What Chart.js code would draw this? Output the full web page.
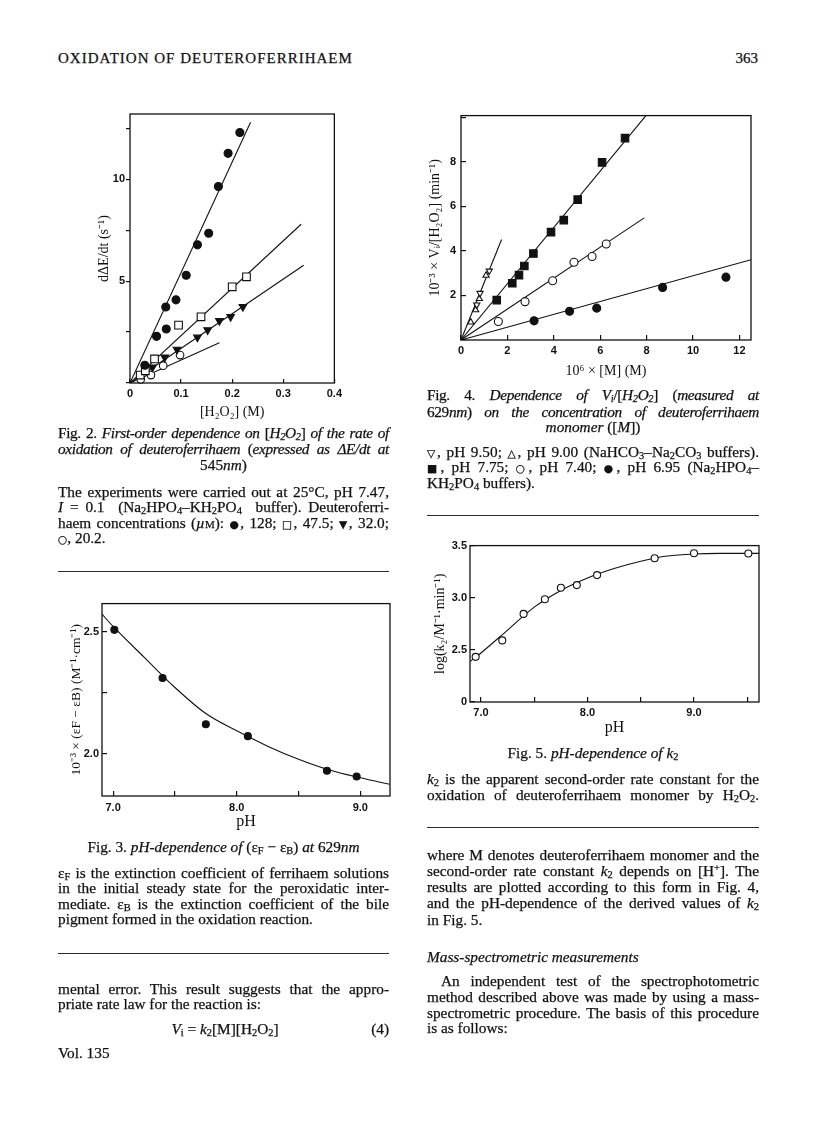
<!DOCTYPE html>
<html>
<head>
<meta charset="utf-8">
<title>Oxidation of deuteroferrihaem</title>
<script src="https://cdn.jsdelivr.net/npm/chart.js@4.4.1/dist/chart.umd.min.js"></script>
<style>
  html, body { margin: 0; padding: 0; background: #fff; }
  body { width: 816px; height: 1136px; position: relative; overflow: hidden;
         font-family: 'Liberation Serif', 'Times New Roman', serif; color: #111; }
  .ln { position: absolute; font-size: 15.3px; line-height: 16px; height: 16px;
        -webkit-text-stroke: 0.25px #111; }
  .j { text-align: justify; text-align-last: justify; }
  .c { text-align: center; }
  .L { left: 58px; width: 331px; }
  .R { left: 427px; width: 332px; }
  .tight { letter-spacing: -0.35px; }
  sub { font-size: 0.68em; vertical-align: -0.22em; line-height: 0; }
  sup { font-size: 0.68em; vertical-align: 0.45em; line-height: 0; }
  .sym { font-family: 'DejaVu Sans', sans-serif; font-size: 0.7em; }
  .sc { font-variant: small-caps; }
  .rule { position: absolute; height: 0; border-top: 1.4px solid #2a2a2a; }
  canvas { position: absolute; }
</style>
</head>
<body>

<!-- running head -->
<div class="ln" style="left:58px; top:50px; letter-spacing:1px; font-size:15px;">OXIDATION OF DEUTEROFERRIHAEM</div>
<div class="ln" style="left:700px; width:58px; top:50px; text-align:right; font-size:15px;">363</div>

<!-- left column -->
<canvas id="fig2" width="270" height="328" style="left:80px; top:100px;"></canvas>

<div class="ln L j tight" style="top:425px;">Fig. 2. <i>First-order dependence on</i> [<i>H<sub>2</sub>O<sub>2</sub></i>] <i>of the rate of</i></div>
<div class="ln L j tight" style="top:441px;"><i>oxidation of deuteroferrihaem</i> (<i>expressed as ΔE/dt at</i></div>
<div class="ln L c" style="top:457px;">545<i>nm</i>)</div>

<div class="ln L j" style="top:484px;">The experiments were carried out at 25°C, pH 7.47,</div>
<div class="ln L j" style="top:499px;"><i>I</i> = 0.1 &nbsp;(Na<sub>2</sub>HPO<sub>4</sub>–KH<sub>2</sub>PO<sub>4</sub> &nbsp;buffer). Deuteroferri-</div>
<div class="ln L j" style="top:515px;">haem concentrations (<i>µ</i><span class="sc">m</span>): <span class="sym">●</span>, 128; <span class="sym">□</span>, 47.5; <span class="sym">▼</span>, 32.0;</div>
<div class="ln L" style="top:530px;"><span class="sym">○</span>, 20.2.</div>

<div class="rule" style="left:58px; width:331px; top:571px;"></div>

<canvas id="fig3" width="342" height="245" style="left:58px; top:589px;"></canvas>

<div class="ln L c" style="top:839px;">Fig. 3. <i>pH-dependence of</i> (ε<sub>F</sub> − ε<sub>B</sub>) <i>at</i> 629<i>nm</i></div>

<div class="ln L j" style="top:865px;">ε<sub>F</sub> is the extinction coefficient of ferrihaem solutions</div>
<div class="ln L j" style="top:880px;">in the initial steady state for the peroxidatic inter-</div>
<div class="ln L j" style="top:896px;">mediate. ε<sub>B</sub> is the extinction coefficient of the bile</div>
<div class="ln L" style="top:911px;">pigment formed in the oxidation reaction.</div>

<div class="rule" style="left:58px; width:331px; top:953px;"></div>

<div class="ln L j" style="top:981px;">mental error. This result suggests that the appro-</div>
<div class="ln L" style="top:996px;">priate rate law for the reaction is:</div>
<div class="ln" style="left:150px; width:150px; top:1021px; text-align:center;"><i>V</i><sub>i</sub> = <i>k</i><sub>2</sub>[M][H<sub>2</sub>O<sub>2</sub>]</div>
<div class="ln" style="left:340px; width:49px; top:1021px; text-align:right;">(4)</div>
<div class="ln L" style="top:1045px;">Vol. 135</div>

<!-- right column -->
<canvas id="fig4" width="341" height="290" style="left:420px; top:99px;"></canvas>

<div class="ln R j tight" style="top:387px;">Fig. 4. <i>Dependence of V<sub>i</sub></i>/[<i>H<sub>2</sub>O<sub>2</sub></i>] (<i>measured at</i></div>
<div class="ln R j tight" style="top:404px;">629<i>nm</i>) <i>on the concentration of deuteroferrihaem</i></div>
<div class="ln R c" style="top:419px;"><i>monomer</i> ([<i>M</i>])</div>

<div class="ln R j" style="top:444px;"><span class="sym">▽</span>, pH 9.50; <span class="sym">△</span>, pH 9.00 (NaHCO<sub>3</sub>–Na<sub>2</sub>CO<sub>3</sub> buffers).</div>
<div class="ln R j" style="top:459px;"><span class="sym">■</span>, pH 7.75; <span class="sym">○</span>, pH 7.40; <span class="sym">●</span>, pH 6.95 (Na<sub>2</sub>HPO<sub>4</sub>–</div>
<div class="ln R" style="top:475px;">KH<sub>2</sub>PO<sub>4</sub> buffers).</div>

<div class="rule" style="left:427px; width:332px; top:515px;"></div>

<canvas id="fig5" width="344" height="207" style="left:425px; top:531px;"></canvas>

<div class="ln R c" style="top:745px;">Fig. 5. <i>pH-dependence of k</i><sub>2</sub></div>

<div class="ln R j" style="top:771px;"><i>k</i><sub>2</sub> is the apparent second-order rate constant for the</div>
<div class="ln R j" style="top:787px;">oxidation of deuteroferrihaem monomer by H<sub>2</sub>O<sub>2</sub>.</div>

<div class="rule" style="left:427px; width:332px; top:827px;"></div>

<div class="ln R j" style="top:847px;">where M denotes deuteroferrihaem monomer and the</div>
<div class="ln R j" style="top:863px;">second-order rate constant <i>k</i><sub>2</sub> depends on [H<sup>+</sup>]. The</div>
<div class="ln R j" style="top:879px;">results are plotted according to this form in Fig. 4,</div>
<div class="ln R j" style="top:895px;">and the pH-dependence of the derived values of <i>k</i><sub>2</sub></div>
<div class="ln R" style="top:912px;">in Fig. 5.</div>

<div class="ln R" style="top:949px;"><i>Mass-spectrometric measurements</i></div>

<div class="ln j" style="left:441px; width:318px; top:973px;">An independent test of the spectrophotometric</div>
<div class="ln R j" style="top:989px;">method described above was made by using a mass-</div>
<div class="ln R j" style="top:1005px;">spectrometric procedure. The basis of this procedure</div>
<div class="ln R" style="top:1020px;">is as follows:</div>

<script>
// Fig. 2 - dΔE/dt against [H2O2] at four deuteroferrihaem concentrations
var fig2X128 = [0.029, 0.052, 0.070, 0.071, 0.090, 0.110, 0.132, 0.154, 0.173, 0.192, 0.215];
var fig2Y128 = [0.87, 2.29, 3.73, 2.65, 4.08, 5.29, 6.78, 7.35, 9.64, 11.27, 12.29];
var fig2X475 = [0.020, 0.030, 0.048, 0.095, 0.139, 0.200, 0.228];
var fig2Y475 = [0.39, 0.60, 1.18, 2.84, 3.25, 4.72, 5.21];
var fig2X320 = [0.044, 0.068, 0.092, 0.132, 0.152, 0.175, 0.197, 0.221];
var fig2Y320 = [0.77, 1.26, 1.65, 2.24, 2.60, 3.05, 3.25, 3.74];
var fig2X202 = [0.021, 0.041, 0.065, 0.098];
var fig2Y202 = [0.18, 0.39, 0.85, 1.37];
// fitted straight lines (start, end)
var fig2Fit128X = [0, 0.236], fig2Fit128Y = [0, 12.8];
var fig2Fit475X = [0, 0.335], fig2Fit475Y = [0, 7.79];
var fig2Fit320X = [0, 0.340], fig2Fit320Y = [0, 5.78];
var fig2Fit202X = [0, 0.175], fig2Fit202Y = [0, 1.98];

// Fig. 3 - (eF - eB) against pH
var fig3Ph = [7.01, 7.40, 7.75, 8.09, 8.73, 8.97];
var fig3Diff = [2.509, 2.311, 2.121, 2.072, 1.930, 1.906];
var fig3CurvePh = [6.91, 7.0, 7.25, 7.5, 7.75, 8.0, 8.25, 8.5, 8.75, 9.0, 9.24];
var fig3CurveDiff = [2.574, 2.523, 2.397, 2.272, 2.165, 2.094, 2.031, 1.977, 1.933, 1.901, 1.874];

// Fig. 4 - Vi/[H2O2] against monomer concentration
var fig4X950 = [0.68, 0.82, 1.22];
var fig4Y950 = [1.58, 2.10, 3.10];
var fig4X900 = [0.42, 0.63, 0.79, 1.08];
var fig4Y900 = [0.80, 1.35, 1.85, 2.90];
var fig4X775 = [1.54, 2.21, 2.50, 2.73, 3.12, 3.88, 4.43, 5.03, 6.08, 7.07];
var fig4Y775 = [1.79, 2.55, 2.91, 3.32, 3.88, 4.84, 5.38, 6.30, 7.97, 9.06];
var fig4X740 = [1.61, 2.76, 3.95, 4.87, 5.65, 6.26];
var fig4Y740 = [0.83, 1.72, 2.66, 3.49, 3.75, 4.31];
var fig4X695 = [3.15, 4.68, 5.85, 8.69, 11.42];
var fig4Y695 = [0.86, 1.29, 1.43, 2.36, 2.82];
var fig4FitAlkX = [0, 1.75], fig4FitAlkY = [0, 4.51];
var fig4Fit775X = [0, 7.97], fig4Fit775Y = [0, 10.07];
var fig4Fit740X = [0, 7.90], fig4Fit740Y = [0, 5.48];
var fig4Fit695X = [0, 12.5], fig4Fit695Y = [0, 3.6];

// Fig. 5 - log k2 against pH
var fig5Ph = [6.95, 7.20, 7.40, 7.60, 7.75, 7.90, 8.09, 8.63, 9.00, 9.51];
var fig5LogK = [2.433, 2.591, 2.845, 2.985, 3.096, 3.121, 3.217, 3.378, 3.427, 3.424];
var fig5CurvePh = [6.9, 7.0, 7.25, 7.5, 7.75, 8.0, 8.25, 8.5, 8.75, 9.0, 9.25, 9.61];
var fig5CurveLogK = [2.39, 2.47, 2.69, 2.91, 3.07, 3.19, 3.28, 3.35, 3.40, 3.42, 3.425, 3.425];

var ink = '#111';
var tickFont = { family: "'Liberation Sans', Arial, sans-serif", size: 11, weight: 'bold' };

// box round the plotting area
var frame = {
    id: 'frame',
    beforeDatasetsDraw: function (chart) {
        var a = chart.chartArea, c = chart.ctx;
        c.save();
        c.strokeStyle = ink;
        c.lineWidth = 1.3;
        c.strokeRect(a.left, a.top, a.right - a.left, a.bottom - a.top);
        c.restore();
    }
};

function pts(xs, ys) {
    return xs.map(function (x, i) { return { x: x, y: ys[i] }; });
}

function markers(xs, ys, style, filled, r, rot) {
    return {
        data: pts(xs, ys),
        showLine: false,
        pointStyle: style,
        pointRadius: r,
        pointRotation: rot || 0,
        pointBackgroundColor: filled ? ink : '#fff',
        pointBorderColor: ink,
        pointBorderWidth: 1.1,
        clip: false
    };
}

function curve(xs, ys, smooth) {
    return {
        data: pts(xs, ys),
        showLine: true,
        pointRadius: 0,
        borderColor: ink,
        borderWidth: 1.1,
        cubicInterpolationMode: smooth ? 'monotone' : 'default',
        fill: false
    };
}

function axis(o) {
    var horiz = o.pos === 'bottom';
    return {
        type: 'linear',
        position: o.pos,
        min: o.min,
        max: o.max,
        afterFit: function (s) {
            if (horiz) s.height = o.size; else s.width = o.size;
        },
        border: { display: false },
        grid: { drawOnChartArea: false, drawTicks: true, tickLength: o.tick, color: ink, lineWidth: 1.2 },
        ticks: {
            stepSize: o.step, includeBounds: false, autoSkip: false, maxRotation: 0,
            padding: o.pad, color: ink, font: tickFont, callback: o.label
        },
        title: {
            display: true, text: o.title, color: ink,
            font: { family: "'Liberation Serif', serif", size: o.titleSize || 14, weight: o.titleWeight || 'normal' },
            padding: horiz ? { top: 0, bottom: o.titlePad } : { top: o.titlePad, bottom: 0 }
        }
    };
}

function plot(id, datasets, x, y, padTop, padRight) {
    return new Chart(document.getElementById(id), {
        type: 'scatter',
        data: { datasets: datasets },
        options: {
            responsive: false,
            animation: false,
            layout: { padding: { top: padTop, right: padRight, left: 0, bottom: 0 } },
            plugins: { legend: { display: false }, tooltip: { enabled: false } },
            scales: { x: x, y: y }
        },
        plugins: [frame]
    });
}

function oneDecimal(v) { return v === 0 ? '0' : v.toFixed(1); }
function onWhole(v) { return Math.abs(v - Math.round(v)) < 1e-6 ? v.toFixed(1) : ''; }

// FIG. 2
plot('fig2', [
    markers(fig2X128, fig2Y128, 'circle', true, 4),
    markers(fig2X475, fig2Y475, 'rect', false, 5.4),
    markers(fig2X320, fig2Y320, 'triangle', true, 4.4, 180),
    markers(fig2X202, fig2Y202, 'circle', false, 3.8),
    curve(fig2Fit128X, fig2Fit128Y),
    curve(fig2Fit475X, fig2Fit475Y),
    curve(fig2Fit320X, fig2Fit320Y),
    curve(fig2Fit202X, fig2Fit202Y)
], axis({ pos: 'bottom', min: 0, max: 0.4, step: 0.1, tick: -4, pad: 8, size: 45,
          label: oneDecimal, title: '[H₂O₂] (M)', titlePad: 7 }),
   axis({ pos: 'left', min: 0, max: 13.2, step: 2.5, tick: 4, pad: 1, size: 50,
          label: function (v) { return (v === 5 || v === 10) ? String(v) : ''; },
          title: 'dΔE/dt (s⁻¹)', titlePad: 16 }),
   14, 10);

// FIG. 3
plot('fig3', [
    markers(fig3Ph, fig3Diff, 'circle', true, 3.5),
    curve(fig3CurvePh, fig3CurveDiff, true)
], axis({ pos: 'bottom', min: 6.91, max: 9.24, step: 0.5, tick: -5, pad: 10, size: 38,
          label: onWhole, title: 'pH', titlePad: 3, titleSize: 16 }),
   axis({ pos: 'left', min: 1.826, max: 2.617, step: 0.25, tick: -5, pad: 8, size: 44,
          label: function (v) { return Math.abs(v * 2 - Math.round(v * 2)) < 1e-6 ? v.toFixed(1) : ''; },
          title: '10⁻³ × (εF − εB) (M⁻¹·cm⁻¹)', titlePad: 10, titleSize: 13.5 }),
   10, 10);

// FIG. 4
plot('fig4', [
    markers(fig4X950, fig4Y950, 'triangle', false, 3.6, 180),
    markers(fig4X900, fig4Y900, 'triangle', false, 3.6),
    markers(fig4X775, fig4Y775, 'rect', true, 5.3),
    markers(fig4X740, fig4Y740, 'circle', false, 4),
    markers(fig4X695, fig4Y695, 'circle', true, 4),
    curve(fig4FitAlkX, fig4FitAlkY),
    curve(fig4Fit775X, fig4Fit775Y),
    curve(fig4Fit740X, fig4Fit740Y),
    curve(fig4Fit695X, fig4Fit695Y)
], axis({ pos: 'bottom', min: 0, max: 12.5, step: 2, tick: -5, pad: 9, size: 49,
          label: function (v) { return String(v); }, title: '10⁶ × [M] (M)', titlePad: 9 }),
   axis({ pos: 'left', min: 0, max: 10.07, step: 2, tick: -5, pad: 10, size: 41,
          label: function (v) { return (v > 0 && v < 10) ? String(v) : ''; },
          title: '10⁻³ × Vᵢ/[H₂O₂] (min⁻¹)', titlePad: 7 }),
   10, 10);

// FIG. 5 (the vertical axis is broken: its bottom is marked 0)
plot('fig5', [
    markers(fig5Ph, fig5LogK, 'circle', false, 3.5),
    curve(fig5CurvePh, fig5CurveLogK, true)
], axis({ pos: 'bottom', min: 6.897, max: 9.61, step: 0.5, tick: -5, pad: 9, size: 36,
          label: onWhole, title: 'pH', titlePad: 1, titleSize: 16 }),
   axis({ pos: 'left', min: 2.0, max: 3.5, step: 0.5, tick: -5, pad: 8, size: 45,
          label: function (v) { return Math.abs(v - 2) < 1e-6 ? '0' : v.toFixed(1); },
          title: 'log(k₂/M⁻¹·min⁻¹)', titlePad: 7 }),
   10, 10);
</script>
</body>
</html>
